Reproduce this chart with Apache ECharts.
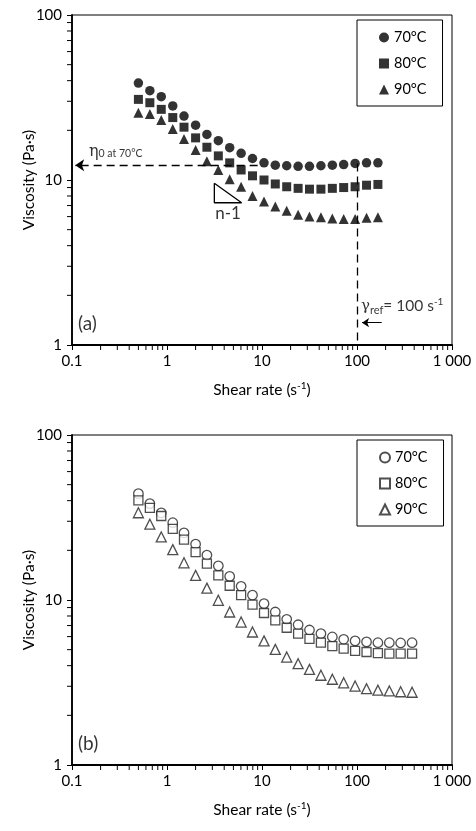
<!DOCTYPE html>
<html><head><meta charset="utf-8">
<script src="https://cdn.jsdelivr.net/npm/echarts/dist/echarts.min.js"></script>
<style>html,body{margin:0;padding:0;background:#fff}#c{width:476px;height:831px}</style>
</head><body><div id="c"></div>
<script>
// ---------- data ----------
const xTickValues = [0.1, 1, 10, 100, 1000];
const xTickLabels = ['0.1', '1', '10', '100', '1 000'];
const yTickValues = [1, 10, 100];
const yTickLabels = ['1', '10', '100'];
const tempLabels = ['70°C', '80°C', '90°C'];

// (a) filled symbols
const shearA = [0.5,0.66,0.87,1.15,1.51,2.0,2.63,3.47,4.57,6.03,7.94,10.5,13.8,18.2,24.0,31.6,41.7,55.0,72.4,95.5,126,166];
const eta70A = [38.7,34.8,32.0,28.1,24.4,21.5,18.9,17.3,15.7,14.5,13.5,12.7,12.3,12.2,12.1,12.1,12.2,12.3,12.4,12.6,12.7,12.7];
const eta80A = [30.8,29.4,26.8,23.9,20.9,18.0,15.8,14.0,12.7,11.5,10.6,10.0,9.46,9.1,8.9,8.8,8.8,8.9,9.0,9.1,9.3,9.4];
const eta90A = [25.6,25.1,23.1,20.4,17.7,15.2,13.0,11.5,10.1,9.1,8.0,7.4,6.9,6.5,6.15,6.0,5.95,5.85,5.8,5.8,5.9,5.95];

// (b) hollow symbols
const shearB = [0.5,0.66,0.87,1.15,1.51,2.0,2.63,3.47,4.57,6.03,7.94,10.5,13.8,18.2,24.0,31.6,41.7,55.0,72.4,95.5,126,166,219,288,380];
const eta70B = [44.1,38.4,33.7,29.4,25.5,21.8,18.7,16.1,13.9,12.1,10.7,9.5,8.46,7.64,7.08,6.58,6.25,5.97,5.78,5.65,5.57,5.51,5.51,5.49,5.51];
const eta80B = [40.2,36.2,32.3,27.0,23.2,19.5,16.6,14.1,12.2,10.7,9.37,8.34,7.53,6.79,6.25,5.82,5.51,5.26,5.07,4.91,4.84,4.77,4.73,4.73,4.73];
const eta90B = [33.8,28.8,24.1,20.2,16.8,14.1,11.8,9.96,8.46,7.35,6.4,5.65,5.02,4.51,4.11,3.80,3.50,3.31,3.15,3.01,2.90,2.84,2.81,2.78,2.76];

// annotations for (a), in data units
const eta0Level = 12.3;       // η0 at 70 °C
const gammaRef = 100;          // reference shear rate
const slopeTri = [[3.15, 9.55], [3.15, 7.28], [6.1, 7.28], [3.15, 9.55]];

// ---------- helpers ----------
const FONT = 'Lato, "Open Sans", sans-serif';
const pair = (xs, ys) => xs.map((x, i) => [x, ys[i]]);
function tickLabel(values, labels) {
  return v => {
    const i = values.findIndex(t => Math.abs(Math.log10(t) - Math.log10(v)) < 1e-6);
    return i >= 0 ? labels[i] : '';
  };
}
const minorX = [], minorY = [];
for (let d = -1; d < 3; d++) for (let k = 2; k <= 9; k++) minorX.push(k * Math.pow(10, d));
for (let d = 0; d < 2; d++) for (let k = 2; k <= 9; k++) minorY.push(k * Math.pow(10, d));

function minorTicks(g, dim) {
  return {
    type: 'custom', xAxisIndex: g, yAxisIndex: g, silent: true, clip: false, z: 1,
    data: (dim === 'x' ? minorX : minorY).map(v => dim === 'x' ? [v, 1] : [0.1, v]),
    renderItem: (params, api) => {
      const p = api.coord([api.value(0), api.value(1)]);
      const shape = dim === 'x'
        ? {x1: p[0], y1: p[1], x2: p[0], y2: p[1] + 5}
        : {x1: p[0], y1: p[1], x2: p[0] - 5, y2: p[1]};
      return {type: 'line', shape, style: {stroke: '#000', lineWidth: 1}};
    }
  };
}

function xAxis(g) {
  return {
    type: 'log', gridIndex: g, min: 0.1, max: 1000, logBase: 10,
    axisLine: {lineStyle: {color: '#000', width: 1.8}},
    axisTick: {show: true, length: 5, lineStyle: {color: '#000', width: 1}},
    splitLine: {show: false},
    axisLabel: {color: '#000', fontSize: 15, fontFamily: FONT, margin: 9,
                formatter: tickLabel(xTickValues, xTickLabels)},
    name: 'Shear rate (s{sup|-1})', nameLocation: 'middle', nameGap: 36,
    nameTextStyle: {color: '#000', fontSize: 15.5, fontFamily: FONT,
      rich: {sup: {fontSize: 10, fontFamily: FONT, color: '#000', verticalAlign: 'top', padding: [0, 0, 8, 0]}}}
  };
}
function yAxis(g) {
  return {
    type: 'log', gridIndex: g, min: 1, max: 100, logBase: 10,
    axisLine: {lineStyle: {color: '#000', width: 1.8}},
    axisTick: {show: true, length: 5, lineStyle: {color: '#000', width: 1}},
    splitLine: {show: false},
    axisLabel: {color: '#000', fontSize: 15, fontFamily: FONT, margin: 10,
                formatter: tickLabel(yTickValues, yTickLabels)},
    name: 'Viscosity (Pa·s)', nameLocation: 'middle', nameGap: 35, nameRotate: 90,
    nameMoveOverlap: false,
    nameTextStyle: {color: '#000', fontSize: 15.5, fontFamily: FONT}
  };
}
function legend(g, names, top) {
  return {
    orient: 'vertical', left: 357, top: top, data: names,
    formatter: n => tempLabels[names.indexOf(n)],
    borderColor: '#000', borderWidth: 1, padding: [10, 16, 9, 22],
    itemGap: 11, itemWidth: 10, itemHeight: 10,
    textStyle: {fontSize: 14.5, fontFamily: FONT, color: '#000'},
    selectedMode: false
  };
}
function scatter(g, name, xs, ys, symbol, size, hollow) {
  return {
    type: 'scatter', name, xAxisIndex: g, yAxisIndex: g, data: pair(xs, ys),
    symbol, symbolSize: size, z: 3,
    itemStyle: hollow ? {color: '#fff', borderColor: '#222', borderWidth: 1.3} : {color: '#000'}
  };
}
function textMark(g, xy, text, rich, align, size) {
  return {
    type: 'scatter', xAxisIndex: g, yAxisIndex: g, silent: true, symbolSize: 0, z: 4,
    data: [xy],
    label: {show: true, position: align === 'left' ? 'right' : 'inside', distance: 0,
            formatter: text, color: '#000', fontFamily: FONT, fontSize: size || 16, rich}
  };
}

const gridsTop = [15, 435];
const option = {
  animation: false,
  backgroundColor: '#fff',
  grid: gridsTop.map(t => ({left: 72, top: t, width: 380, height: 330, show: true,
                            borderColor: '#000', borderWidth: 1, backgroundColor: 'transparent'})),
  xAxis: [xAxis(0), xAxis(1)],
  yAxis: [yAxis(0), yAxis(1)],
  legend: [legend(0, ['a70', 'a80', 'a90'], 20), legend(1, ['b70', 'b80', 'b90'], 440)],
  series: [
    minorTicks(0, 'x'), minorTicks(0, 'y'), minorTicks(1, 'x'), minorTicks(1, 'y'),
    {
      type: 'line', xAxisIndex: 0, yAxisIndex: 0, data: slopeTri, symbol: 'none', silent: true, z: 2,
      lineStyle: {color: '#000', width: 1.3},
      markLine: {
        silent: true, label: {show: false}, symbolSize: 9,
        data: [
          [{coord: [9, eta0Level], symbol: 'none', lineStyle: {type: [8, 5], color: '#000', width: 1.3}},
           {coord: [0.108, eta0Level], symbol: 'arrow'}],
          [{coord: [gammaRef, 12.6], symbol: 'none', lineStyle: {type: [8, 5], color: '#000', width: 1.3}},
           {coord: [gammaRef, 1], symbol: 'none'}],
          [{coord: [182, 1.365], symbol: 'none', lineStyle: {type: 'solid', color: '#000', width: 1}},
           {coord: [113, 1.365], symbol: 'arrow', symbolSize: 7}]
        ]
      }
    },
    scatter(0, 'a70', shearA, eta70A, 'circle', 9.5, false),
    scatter(0, 'a80', shearA, eta80A, 'rect', 9, false),
    scatter(0, 'a90', shearA, eta90A, 'triangle', 10, false),
    scatter(1, 'b70', shearB, eta70B, 'circle', 9.5, true),
    scatter(1, 'b80', shearB, eta80B, 'rect', 9, true),
    scatter(1, 'b90', shearB, eta90B, 'triangle', 10, true),
    textMark(0, [0.151, 14.8], '{e|η}{s|0 at 70°C}',
      {e: {fontFamily: '"DejaVu Serif", serif', fontSize: 16, color: '#000'},
       s: {fontFamily: FONT, fontSize: 10.5, color: '#000', padding: [3, 0, 0, 0]}}, 'left'),
    textMark(0, [4.4, 6.3], 'n-1', {}, 'center', 17),
    textMark(0, [0.1157, 1.34], '(a)', {}, 'left', 19),
    textMark(1, [0.1157, 1.34], '(b)', {}, 'left', 19),
    textMark(0, [110, 1.72], '{g|γ}{sub|ref}{t|= 100 s}{sup|-1}',
      {g: {fontFamily: '"DejaVu Serif", serif', fontSize: 15, color: '#000', lineHeight: 19},
       sub: {fontFamily: FONT, fontSize: 11, color: '#000', verticalAlign: 'bottom', lineHeight: 12},
       t: {fontFamily: FONT, fontSize: 15.5, color: '#000', lineHeight: 19},
       sup: {fontFamily: FONT, fontSize: 10, color: '#000', verticalAlign: 'top', lineHeight: 10}}, 'left')
  ]
};
const chart = echarts.init(document.getElementById('c'), null, {renderer: 'canvas'});
chart.setOption(option);
</script>
</body></html>
